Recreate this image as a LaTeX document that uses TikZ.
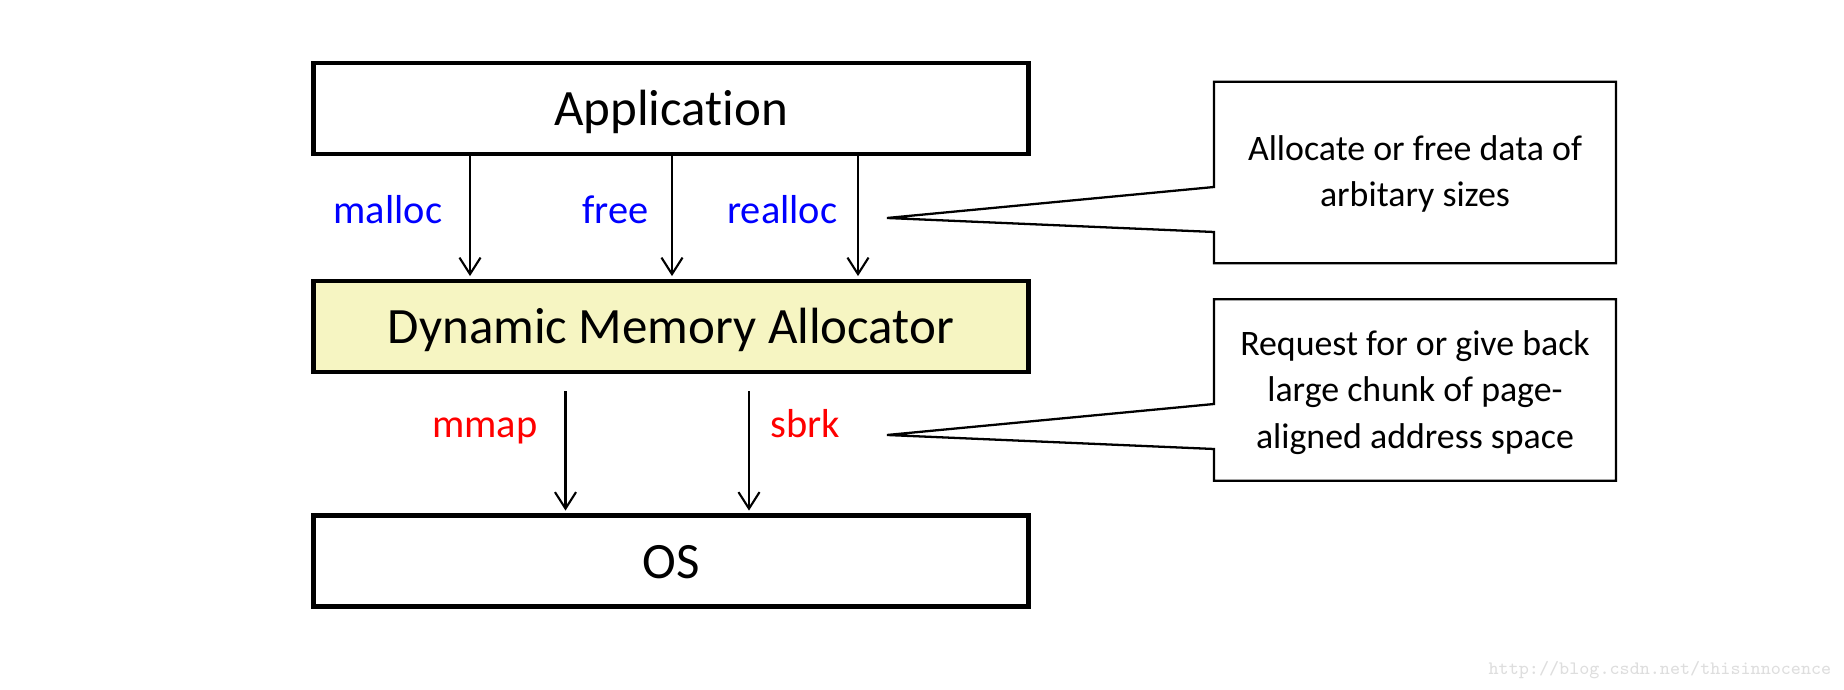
\documentclass[tikz,border=0pt]{standalone}
\usepackage{fontspec}
\setmainfont{Carlito}[Ligatures=NoCommon]
\usetikzlibrary{arrows.meta}
\definecolor{dmafill}{RGB}{246,245,194}
\definecolor{wmgray}{RGB}{222,222,222}

\begin{document}
\begin{tikzpicture}[arr/.style={-{Straight Barb[length=4.7pt,width=6pt]},line width=0.6pt},
                    lbl/.style={font=\fontsize{11.5}{13}\selectfont,inner sep=0pt},
                    notebox/.style={line width=0.65pt}]
            \useasboundingbox (0,0) rectangle (18.44,6.90);

            \begin{scope}[every node/.style={rectangle,draw,line width=1.4pt,minimum width=7.145cm,minimum height=0.91cm,inner sep=0pt,text height=12pt,text depth=2.1pt,font=\fontsize{14.5}{17}\selectfont}]
                \node (app) at (6.71,5.815) {Application};
                \node[fill=dmafill] (dma) at (6.71,3.635) {Dynamic Memory Allocator};
                \node (os) at (6.71,1.29) {OS};
            \end{scope}

            \begin{scope}[every node/.style={minimum width=4.005cm,minimum height=1.80cm,align=center,inner sep=0pt,font=\fontsize{10.2}{13.2}\selectfont}]
                \node (note1) at (14.15,5.16) {Allocate or free data of\\arbitary sizes};
                \node (note2) at (14.15,2.975) {Request for or give back\\large chunk of page-\\aligned address space};
            \end{scope}

            \begin{scope}[every node/.style={lbl,anchor=base east}]
                \node[text=blue] (malloc) at (4.43,4.665) {malloc};
                \node[text=blue] (free) at (6.49,4.665) {free};
                \node[text=blue] (realloc) at (8.38,4.665) {realloc};
                \node[text=red] (mmap) at (5.38,2.525) {mmap};
                \node[text=red,anchor=base west] (sbrk) at (7.70,2.525) {sbrk};
            \end{scope}

            \begin{scope}[shorten >=0.7pt]
                \draw[arr] ([xshift=-2.01cm]app.south) -- ([xshift=-2.01cm]dma.north);
                \draw[arr] ([xshift=0.01cm]app.south) -- ([xshift=0.01cm]dma.north);
                \draw[arr] ([xshift=1.87cm]app.south) -- ([xshift=1.87cm]dma.north);
                \draw[arr,shorten <=0.17cm] ([xshift=-1.055cm]dma.south) -- ([xshift=-1.055cm]os.north);
                \draw[arr,shorten <=0.17cm] ([xshift=0.78cm]dma.south) -- ([xshift=0.78cm]os.north);
            \end{scope}

            \coordinate (tip1) at (8.87,4.72);
            \coordinate (tip2) at (8.87,2.55);
            \draw[notebox] ([yshift=0.015cm]note1.north west) -- ([yshift=-0.13cm]note1.west) -- (tip1)
                -- ([yshift=-0.58cm]note1.west) -- ([yshift=0.015cm]note1.south west) -- ([yshift=0.015cm]note1.south east)
                -- ([yshift=0.015cm]note1.north east) -- cycle;
            \draw[notebox] ([yshift=0.025cm]note2.north west) -- ([yshift=-0.115cm]note2.west) -- (tip2)
                -- ([yshift=-0.565cm]note2.west) -- ([yshift=0.025cm]note2.south west) -- ([yshift=0.025cm]note2.south east)
                -- ([yshift=0.025cm]note2.north east) -- cycle;

            \node[anchor=base east,text=wmgray,inner sep=0pt,font=\ttfamily\fontsize{5.4}{6}\selectfont] (wm) at (18.32,0.15) {http://blog.csdn.net/thisinnocence};
\end{tikzpicture}
\end{document}
